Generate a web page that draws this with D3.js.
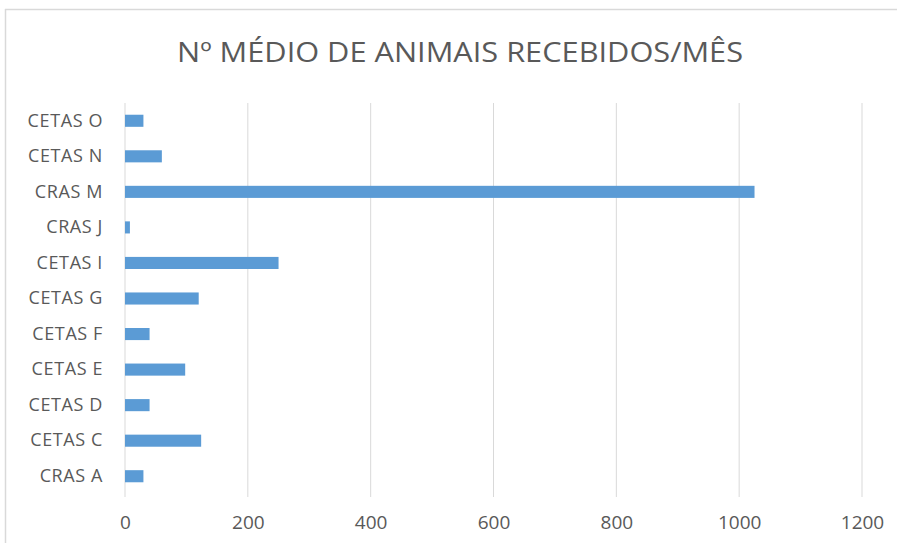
<!DOCTYPE html>
<html><head><meta charset="utf-8">
<script src="https://cdn.jsdelivr.net/npm/d3@7"></script>
<style>html,body{margin:0;padding:0;background:#fff;}</style>
</head><body><svg id="c" width="897" height="543"></svg>
<script>
const categories = ["CETAS O","CETAS N","CRAS M","CRAS J","CETAS I","CETAS G","CETAS F","CETAS E","CETAS D","CETAS C","CRAS A"];
const values = [30, 60, 1025, 8, 250, 120, 40, 98, 40, 124, 30];
const xTicks = [0, 200, 400, 600, 800, 1000, 1200];
const title = "Nº MÉDIO DE ANIMAIS RECEBIDOS/MÊS";

const svg = d3.select("#c");
const font = "'Open Sans', 'Liberation Sans', sans-serif";
const textColor = "#595959";
const m = {left:125, right:35, top:103, bottom:49};
const gridBottom = 497;
const W = 897, H = 543;

// chart border (top and left visible)
svg.append("line").attr("x1",5).attr("x2",W).attr("y1",9.5).attr("y2",9.5).attr("stroke","#d9d9d9").attr("stroke-width",1.5);
svg.append("line").attr("x1",5.5).attr("x2",5.5).attr("y1",9).attr("y2",H).attr("stroke","#d9d9d9").attr("stroke-width",1.5);

const x = d3.scaleLinear().domain([0,1200]).range([m.left, W - m.right]);
const y = d3.scaleBand().domain(categories).range([m.top, H - m.bottom]).paddingInner(0.66).paddingOuter(0.33);

// gridlines
svg.append("g").selectAll("line").data(xTicks).join("line")
  .attr("x1", d=>x(d)).attr("x2", d=>x(d))
  .attr("y1", m.top).attr("y2", gridBottom)
  .attr("stroke", "#d9d9d9").attr("stroke-width", 1);

// bars
svg.append("g").selectAll("rect").data(values).join("rect")
  .attr("x", x(0))
  .attr("y", (d,i)=>y(categories[i]))
  .attr("width", d=>x(d)-x(0))
  .attr("height", y.bandwidth())
  .attr("fill", "#5B9BD5");

// x axis
const xa = svg.append("g").attr("transform",`translate(0,${gridBottom})`)
  .call(d3.axisBottom(x).tickValues(xTicks).tickFormat(d3.format("d")).tickSize(0).tickPadding(18.5));
xa.select(".domain").remove();
xa.selectAll("text").attr("font-family",font).attr("font-size",19).attr("fill",textColor);

// y axis
const ya = svg.append("g").attr("transform",`translate(${m.left},0)`)
  .call(d3.axisLeft(y).tickSize(0).tickPadding(22));
ya.select(".domain").remove();
ya.selectAll("text").attr("font-family",font).attr("font-size",18).attr("fill",textColor).attr("letter-spacing","0.6px");

// title
svg.append("text").attr("x", 177).attr("y", 62).attr("text-anchor","start")
  .attr("font-family",font).attr("font-size",28).attr("fill",textColor)
  .attr("textLength", 566).attr("lengthAdjust","spacingAndGlyphs")
  .text(title);
</script></body></html>
